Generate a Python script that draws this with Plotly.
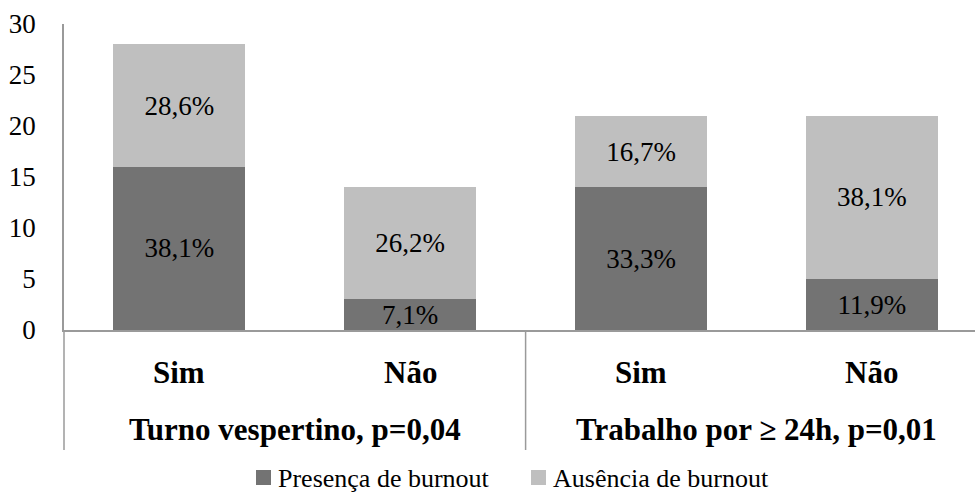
import plotly.graph_objects as go

# ---- data ----
categories = ["Sim", "Não", "Sim", "Não"]
groups = ["Turno vespertino, p=0,04", "Trabalho por ≥ 24h, p=0,01"]
presenca = [16, 3, 14, 5]
ausencia = [12, 11, 7, 16]
presenca_lbl = ["38,1%", "7,1%", "33,3%", "11,9%"]
ausencia_lbl = ["28,6%", "26,2%", "16,7%", "38,1%"]
series_names = ["Presença de burnout", "Ausência de burnout"]
y_ticks = [0, 5, 10, 15, 20, 25, 30]

DARK = "#737373"
LIGHT = "#bfbfbf"
AXIS = "#9a9a9a"
FONT = "Liberation Serif"

W, H = 975, 492
L, R, T, B = 64, 0, 24, 162
PW, PH = W - L - R, H - T - B
STEP = 230.8  # px per category
XMIN = -0.5
XMAX = XMIN + PW / STEP

def px(xp):
    return (xp - L) / PW

def py(yp):
    return (H - B - yp) / PH

def dx(xd):
    return (xd - XMIN) / (XMAX - XMIN)

xs = list(range(len(categories)))

fig = go.Figure()
fig.add_trace(go.Bar(
    x=xs, y=presenca, name=series_names[0], marker_color=DARK,
    marker_line_width=0, width=0.572,
    text=presenca_lbl, textposition="inside", insidetextanchor="middle",
    insidetextfont=dict(family=FONT, size=27, color="black"),
    showlegend=False, hoverinfo="skip"))
fig.add_trace(go.Bar(
    x=xs, y=ausencia, name=series_names[1], marker_color=LIGHT,
    marker_line_width=0, width=0.572,
    text=ausencia_lbl, textposition="inside", insidetextanchor="middle",
    insidetextfont=dict(family=FONT, size=27, color="black"),
    showlegend=False, hoverinfo="skip"))

shapes = [
    dict(type="line", xref="paper", yref="paper", x0=0, x1=0, y0=0, y1=py(450),
         line=dict(color=AXIS, width=1.5)),
    dict(type="line", xref="paper", yref="paper", x0=dx(1.5), x1=dx(1.5), y0=0, y1=py(450),
         line=dict(color=AXIS, width=1.5)),
]

annotations = []
for i, c in enumerate(categories):
    annotations.append(dict(x=dx(i), y=py(372), xref="paper", yref="paper", text="<b>%s</b>" % c,
                            showarrow=False, xanchor="center", yanchor="middle",
                            font=dict(family=FONT, size=31, color="black")))
for g, gx in zip(groups, [0.5, 2.5]):
    annotations.append(dict(x=dx(gx), y=py(429), xref="paper", yref="paper", text="<b>%s</b>" % g,
                            showarrow=False, xanchor="center", yanchor="middle",
                            font=dict(family=FONT, size=31, color="black")))

leg = [(256, series_names[0], DARK), (531, series_names[1], LIGHT)]
for x0, name, col in leg:
    shapes.append(dict(type="rect", xref="paper", yref="paper",
                       x0=px(x0), x1=px(x0 + 15), y0=py(485), y1=py(470),
                       fillcolor=col, line=dict(width=0)))
    annotations.append(dict(x=px(x0 + 20), y=py(478), xref="paper", yref="paper", text=name,
                            showarrow=False, xanchor="left", yanchor="middle",
                            font=dict(family=FONT, size=26, color="black")))

fig.update_layout(
    barmode="stack",
    width=W, height=H,
    margin=dict(l=L, r=R, t=T, b=B, pad=0),
    paper_bgcolor="white", plot_bgcolor="white",
    font=dict(family=FONT, size=27, color="black"),
    uniformtext=dict(minsize=27, mode="show"),
    shapes=shapes, annotations=annotations,
    xaxis=dict(range=[XMIN, XMAX], showticklabels=False, ticks="", showgrid=False,
               zeroline=False, showline=True, linecolor=AXIS, linewidth=1.5),
    yaxis=dict(range=[0, 30], tickvals=y_ticks, ticks="", showgrid=False, zeroline=False,
               showline=True, linecolor=AXIS, linewidth=1.5, ticklabelstandoff=21,
               tickfont=dict(family=FONT, size=27, color="black")),
    showlegend=False,
)

fig.write_html("out.html")
